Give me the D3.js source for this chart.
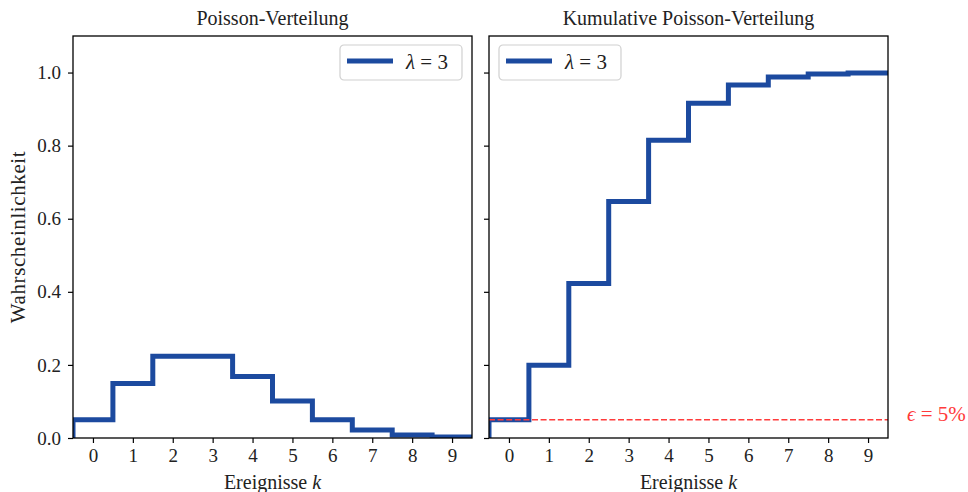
<!DOCTYPE html>
<html>
<head>
    <meta charset="utf-8" />
    <script src="https://d3js.org/d3.v7.min.js"></script>
    <style>
        body { margin: 0; background: #fff; }
        text { font-family: "Liberation Serif", "DejaVu Serif", serif; fill: #222; }
    </style>
</head>
<body>
<script>
    // values
    var ks = [0, 1, 2, 3, 4, 5, 6, 7, 8, 9];
    var pmf = [0.050, 0.149, 0.224, 0.224, 0.168, 0.101, 0.050, 0.022, 0.008, 0.003];
    var cdf = [0.050, 0.199, 0.423, 0.647, 0.815, 0.916, 0.966, 0.988, 0.996, 0.999];
    var yTicks = [0.0, 0.2, 0.4, 0.6, 0.8, 1.0];
    var epsilon = 0.05;

    var blue = "#1c4a9f";
    var red = "#ff3b3b";

    var svg = d3.select("body").append("svg")
        .attr("width", 968)
        .attr("height", 492);

    var plotTop = 36, plotBottom = 438;
    var y = d3.scaleLinear().domain([0, 1.1]).range([plotBottom, plotTop]);

    var panels = [
        { left: 73, right: 472, data: pmf, title: "Poisson-Verteilung", labels: true, legendX: 340 },
        { left: 489, right: 888, data: cdf, title: "Kumulative Poisson-Verteilung", labels: false, legendX: 499 }
    ];

    panels.forEach(function (p, i) {
        var x = d3.scaleLinear().domain([-0.5, 9.5]).range([p.left, p.right]);
        var g = svg.append("g");

        // step line, centred on each k
        var pts = [[-0.5, 0]];
        p.data.forEach(function (v, j) {
            pts.push([ks[j] - 0.5, v]);
            pts.push([ks[j] + 0.5, v]);
        });
        var line = d3.line().x(function (d) { return x(d[0]); }).y(function (d) { return y(d[1]); });

        g.append("clipPath").attr("id", "clip" + i)
            .append("rect").attr("x", p.left).attr("y", plotTop)
            .attr("width", p.right - p.left).attr("height", plotBottom - plotTop);

        g.append("path")
            .attr("d", line(pts))
            .attr("fill", "none")
            .attr("stroke", blue)
            .attr("stroke-width", 5)
            .attr("clip-path", "url(#clip" + i + ")");

        if (i == 1) {
            g.append("line")
                .attr("x1", p.left).attr("x2", p.right)
                .attr("y1", y(epsilon)).attr("y2", y(epsilon))
                .attr("stroke", red).attr("stroke-width", 1.6)
                .attr("stroke-dasharray", "6,2.6");
        }

        // axes
        var xAxis = d3.axisBottom(x).tickValues(ks).tickSize(5).tickPadding(6).tickFormat(d3.format("d"));
        var ax = g.append("g").attr("transform", "translate(0," + plotBottom + ")").call(xAxis);
        ax.select(".domain").remove();
        ax.selectAll("text").attr("font-size", 19).style("font-family", "Liberation Serif, serif").attr("fill", "#222");

        var yAxis = d3.axisLeft(y).tickValues(yTicks).tickSize(5).tickPadding(7)
            .tickFormat(p.labels ? d3.format(".1f") : "");
        var ay = g.append("g").attr("transform", "translate(" + p.left + ",0)").call(yAxis);
        ay.select(".domain").remove();
        ay.selectAll("text").attr("font-size", 19).style("font-family", "Liberation Serif, serif").attr("fill", "#222");
        g.selectAll(".tick line").attr("stroke", "#000").attr("stroke-width", 1.2);

        g.append("rect")
            .attr("x", p.left).attr("y", plotTop)
            .attr("width", p.right - p.left).attr("height", plotBottom - plotTop)
            .attr("fill", "none").attr("stroke", "#000").attr("stroke-width", 1.3);

        g.append("text")
            .attr("x", (p.left + p.right) / 2).attr("y", 25)
            .attr("text-anchor", "middle").attr("font-size", 20)
            .text(p.title);

        var xl = g.append("text")
            .attr("x", (p.left + p.right) / 2).attr("y", 489)
            .attr("text-anchor", "middle").attr("font-size", 20);
        xl.append("tspan").text("Ereignisse ");
        xl.append("tspan").attr("font-style", "italic").text("k");

        // legend
        var lg = g.append("g").attr("transform", "translate(" + p.legendX + ",45)");
        lg.append("rect").attr("width", 122).attr("height", 35).attr("rx", 4)
            .attr("fill", "#fff").attr("fill-opacity", 0.8)
            .attr("stroke", "#d0d0d0").attr("stroke-width", 1.2);
        lg.append("line").attr("x1", 7).attr("x2", 53).attr("y1", 16).attr("y2", 16)
            .attr("stroke", blue).attr("stroke-width", 5);
        var lt = lg.append("text").attr("x", 66).attr("y", 24).attr("font-size", 21);
        lt.append("tspan").attr("font-style", "italic").text("λ");
        lt.append("tspan").text(" = 3");
    });

    svg.append("text")
        .attr("transform", "translate(25,237) rotate(-90)")
        .attr("text-anchor", "middle").attr("font-size", 21)
        .attr("letter-spacing", 0.6)
        .text("Wahrscheinlichkeit");

    var et = svg.append("text")
        .attr("x", 907).attr("y", 421)
        .attr("font-size", 21)
        .style("fill", red);
    et.append("tspan").attr("font-style", "italic").text("ϵ");
    et.append("tspan").text(" = 5%");
</script>
</body>
</html>
